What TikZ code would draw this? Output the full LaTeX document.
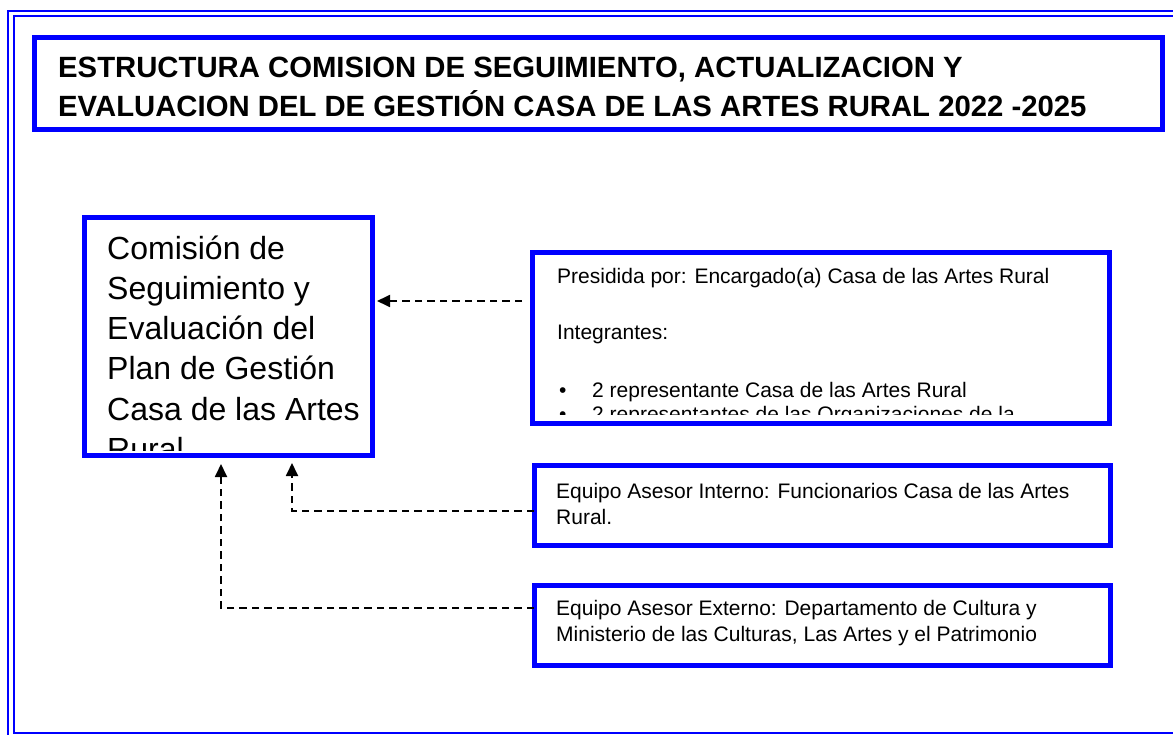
\documentclass[tikz,border=0pt]{standalone}
\usepackage{fontspec}
\setmainfont{Liberation Sans}
\usetikzlibrary{arrows.meta}
\definecolor{fblue}{RGB}{0,0,255}
\begin{document}
\begin{tikzpicture}[x=1pt,y=-1pt,
  frame/.style={draw=fblue,line width=2pt},
  bluebox/.style={draw=fblue,line width=5pt,rectangle,inner sep=0pt,outer sep=0pt,anchor=north west},
  conn/.style={draw=black,line width=1.8pt,dash pattern=on 7.5pt off 5pt,-{Triangle[length=13pt,width=12pt]}},
  titletxt/.style={anchor=base west,inner sep=0pt,font=\fontsize{29.3}{34}\selectfont\bfseries},
  comtxt/.style={anchor=base west,inner sep=0pt,font=\fontsize{32}{38}\selectfont},
  boxtxt/.style={anchor=base west,inner sep=0pt,font=\fontsize{21}{24}\selectfont},
]
\useasboundingbox (0,0) rectangle (1173,735);
% page frame
\draw[frame] (8,745) -- (8,11) -- (1185,11);
\draw[frame] (1185,16) -- (13.5,16) -- (13.5,733) -- (1185,733);
% title
\node[bluebox,minimum width=1128pt,minimum height=91.5pt] (title) at (34.5,38) {};
\node[titletxt] (tl1) at (58,78) {ESTRUCTURA COMISION DE SEGUIMIENTO, ACTUALIZACION Y};
\node[titletxt] (tl2) at (58,117) {EVALUACION DEL DE GESTIÓN CASA DE LAS ARTES RURAL 2022 -2025};
% comision box
\begin{scope}
\clip (86.5,220.5) rectangle (369.5,450);
\node[comtxt] (c1) at (107,260) {Comisión de};
\node[comtxt] (c2) at (107,300) {Seguimiento y};
\node[comtxt] (c3) at (107,340) {Evaluación del};
\node[comtxt] (c4) at (107,380) {Plan de Gestión};
\node[comtxt] (c5) at (107,420) {Casa de las Artes};
\node[comtxt] (c6) at (107,460) {Rural};
\end{scope}
\node[bluebox,minimum width=288pt,minimum height=237pt] (com) at (84,218) {};
% presidida box
\begin{scope}
\clip (534.5,255.5) rectangle (1107,414);
\node[boxtxt] (p1) at (557,284) {Presidida por: Encargado(a) Casa de las Artes Rural};
\node[boxtxt] (p2) at (557,340) {Integrantes:};
\node[boxtxt] (b1) at (559,397) {•};
\node[boxtxt] (p3) at (592,397) {2 representante Casa de las Artes Rural};
\node[boxtxt] (b2) at (559,421) {•};
\node[boxtxt] (p4) at (592,421) {2 representantes de las Organizaciones de la};
\end{scope}
\node[bluebox,minimum width=577.5pt,minimum height=170pt] (pres) at (532,253) {};
% interno box
\node[bluebox,minimum width=576pt,minimum height=80pt] (int) at (534,465) {};
\node[boxtxt] (i1) at (556,498) {Equipo Asesor Interno: Funcionarios Casa de las Artes};
\node[boxtxt] (i2) at (556,524) {Rural.};
% externo box
\node[bluebox,minimum width=576pt,minimum height=80pt] (ext) at (534,585) {};
\node[boxtxt] (e1) at (556,615) {Equipo Asesor Externo: Departamento de Cultura y};
\node[boxtxt] (e2) at (556,641) {Ministerio de las Culturas, Las Artes y el Patrimonio};
% connectors
\coordinate (pa) at ([yshift=37pt]pres.west);
\draw[conn,shorten <=10pt,shorten >=5pt] (pa) -- (pa -| com.east);
\coordinate (ia) at ([yshift=-6pt]int.west);
\coordinate (ca) at ([xshift=208pt,yshift=-8pt]com.south west);
\draw[conn] (ia) -| (ca);
\coordinate (ea) at ([yshift=17pt]ext.west);
\coordinate (cb) at ([xshift=137pt,yshift=-9pt]com.south west);
\draw[conn] (ea) -| (cb);
\end{tikzpicture}
\end{document}
